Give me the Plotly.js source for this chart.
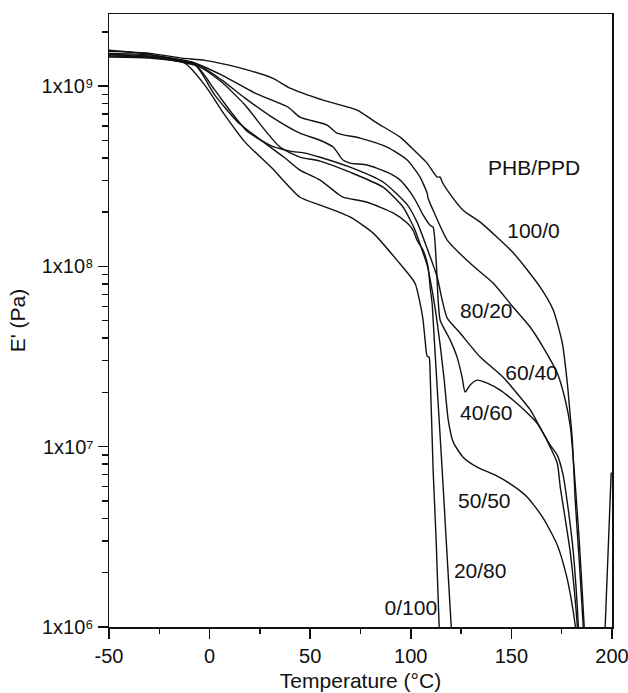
<!DOCTYPE html>
<html><head><meta charset="utf-8">
<script src="https://cdn.plot.ly/plotly-3.0.1.min.js"></script>
<style>html,body{margin:0;padding:0;background:#fff}</style>
</head><body><div id="chart" style="width:628px;height:693px"></div>
<script>
// ---- data: temperature (°C) and storage modulus E' (Pa) per PHB/PPD blend ----
const seriesNames = ['100/0', '80/20', '60/40', '40/60', '50/50', '20/80', '0/100'];

const temp100_0 = [-50, -29.7, -13.8, -2.3, 14.1, 31.0, 40.0, 56.4, 73.3, 83.2, 94.7, 103.1, 108.1, 113.1, 114.6, 115.6, 118.1, 126.0, 134.5, 150.9, 164.3, 170.8, 175.3, 177.8, 179.3, 180.3, 181.7, 183.7, 185.7, 186.3, 196.0, 196.6, 199.6];
const mod100_0 = [1.56e9, 1.52e9, 1.43e9, 1.39e9, 1.27e9, 1.11e9, 9.75e8, 8.36e8, 7.36e8, 6.24e8, 5.21e8, 4.25e8, 3.74e8, 3.13e8, 3.13e8, 2.94e8, 2.65e8, 2.05e8, 1.76e8, 1.19e8, 7.68e7, 5.73e7, 3.76e7, 2.25e7, 1.46e7, 1.09e7, 5.06e6, 2.35e6, 1.0e6, 7e5, 7e5, 1.0e6, 7.2e6];

const temp80_20 = [-50, -29.7, -8.8, 6.1, 22.5, 38.9, 44.9, 58.4, 63.3, 74.8, 88.2, 98.2, 104.6, 108.1, 108.6, 111.1, 118.1, 129.5, 141.0, 150.9, 159.4, 165.8, 172.8, 176.8, 179.3, 181.2, 183.7, 186.2, 187.0];
const mod80_20 = [1.52e9, 1.49e9, 1.36e9, 1.15e9, 9.15e8, 7.66e8, 6.73e8, 6.08e8, 5.49e8, 5.15e8, 4.59e8, 3.89e8, 3.13e8, 2.55e8, 2.39e8, 2.05e8, 1.40e8, 1.04e8, 8.07e7, 5.94e7, 4.6e7, 3.56e7, 2.56e7, 1.81e7, 1.29e7, 7.41e6, 3.03e6, 1.0e6, 6e5];

const temp60_40 = [-50, -29.7, -7.3, 2.6, 11.1, 19.1, 31.0, 40.0, 47.4, 54.9, 69.8, 86.2, 98.2, 103.1, 108.1, 113.1, 115.6, 118.1, 124.5, 134.5, 145.9, 154.4, 159.4, 162.8, 165.8, 169.3, 172.8, 175.7, 178.3, 180.8, 183.3, 184.0];
const mod60_40 = [1.50e9, 1.47e9, 1.32e9, 9.5e8, 7.08e8, 5.56e8, 4.65e8, 4.36e8, 4.25e8, 4.03e8, 3.55e8, 2.94e8, 2.2e8, 1.76e8, 1.26e8, 8.73e7, 6.5e7, 5.17e7, 4.27e7, 3.14e7, 2.43e7, 1.88e7, 1.6e7, 1.37e7, 1.19e7, 1.02e7, 8.98e6, 6.95e6, 4.45e6, 2.57e6, 1.0e6, 6e5];

const temp40_60 = [-50, -29.7, -5.8, 6.1, 17.6, 31.0, 44.9, 54.9, 61.4, 66.3, 69.8, 78.3, 88.2, 94.7, 99.7, 103.1, 106.1, 109.6, 111.1, 112.6, 113.6, 114.6, 119.6, 123.0, 125.5, 127.0, 129.5, 133.0, 138.0, 144.4, 150.9, 157.9, 162.8, 165.8, 169.3, 172.8, 174.3, 179.3, 182.8, 183.5];
const mod40_60 = [1.58e9, 1.50e9, 1.31e9, 1.08e9, 8.58e8, 6.73e8, 5.48e8, 5.01e8, 4.59e8, 3.89e8, 3.74e8, 3.65e8, 3.33e8, 3.01e8, 2.58e8, 2.24e8, 1.93e8, 1.69e8, 1.65e8, 1.08e8, 6.5e7, 5.03e7, 3.9e7, 3.14e7, 2.43e7, 2.01e7, 2.2e7, 2.34e7, 2.25e7, 2.06e7, 1.81e7, 1.54e7, 1.35e7, 1.19e7, 9.95e6, 8.1e6, 5.97e6, 2.57e6, 1.0e6, 7e5];

const temp50_50 = [-50, -29.7, -5.8, 6.1, 17.6, 27.5, 35.0, 44.9, 54.9, 69.8, 86.2, 96.2, 99.7, 102.1, 105.1, 108.1, 110.6, 112.6, 114.6, 116.6, 118.6, 121.1, 126.0, 133.0, 142.0, 150.4, 157.9, 165.8, 172.8, 177.3, 179.8, 181.8, 182.5];
const mod50_50 = [1.49e9, 1.45e9, 1.29e9, 1.05e9, 7.85e8, 5.7e8, 4.59e8, 4.04e8, 3.84e8, 3.33e8, 2.75e8, 2.13e8, 1.81e8, 1.59e8, 1.28e8, 1.02e8, 7.39e7, 5.37e7, 3.66e7, 2.34e7, 1.41e7, 1.06e7, 8.75e6, 7.7e6, 6.95e6, 6.12e6, 5.25e6, 4.02e6, 2.85e6, 1.94e6, 1.41e6, 1.0e6, 8e5];

const temp20_80 = [-50, -29.7, -7.3, 2.6, 14.1, 27.5, 37.5, 44.9, 54.9, 63.3, 66.3, 78.3, 91.2, 98.2, 101.1, 103.1, 106.1, 108.6, 109.6, 110.6, 111.1, 113.1, 115.6, 117.6, 120.1, 120.6];
const mod20_80 = [1.45e9, 1.43e9, 1.31e9, 8.91e8, 6.31e8, 4.83e8, 3.99e8, 3.42e8, 3.01e8, 2.55e8, 2.42e8, 2.27e8, 1.98e8, 1.74e8, 1.59e8, 1.40e8, 1.23e8, 9.91e7, 7.68e7, 6.25e7, 5.04e7, 2.14e7, 7.41e6, 3.03e6, 1.0e6, 8e5];

const temp0_100 = [-50, -29.7, -12.3, -2.3, 7.6, 17.6, 31.0, 44.9, 54.9, 69.8, 81.3, 93.2, 102.1, 104.6, 106.1, 107.1, 108.1, 109.1, 109.6, 111.1, 112.6, 114.1, 114.6];
const mod0_100 = [1.47e9, 1.45e9, 1.34e9, 1.01e9, 6.9e8, 4.89e8, 3.51e8, 2.42e8, 2.19e8, 1.88e8, 1.53e8, 1.08e8, 8.07e7, 6.25e7, 5.04e7, 3.9e7, 3.18e7, 3.14e7, 2.56e7, 7.41e6, 3.03e6, 1.0e6, 8e5];

// axis ticks
const xTickVals = [-50, 0, 50, 100, 150, 200];
const xTickText = ['-50', '0', '50', '100', '150', '200'];
const yTickVals = [1e6, 1e7, 1e8, 1e9];
const yTickText = ['1x10⁶', '1x10⁷', '1x10⁸', '1x10⁹'];
const legendTitle = 'PHB/PPD';

// ---- build ----
const temps = [temp100_0, temp80_20, temp60_40, temp40_60, temp50_50, temp20_80, temp0_100];
const mods = [mod100_0, mod80_20, mod60_40, mod40_60, mod50_50, mod20_80, mod0_100];

const traces = seriesNames.map((n, i) => ({
  type: 'scatter', mode: 'lines', name: n,
  x: temps[i], y: mods[i],
  line: {color: '#111', width: 1.4, shape: 'spline', smoothing: 0.6},
  hoverinfo: 'skip'
}));

const yMinor = [];
for (let d = 6; d <= 9; d++) for (let k = 2; k <= 9; k++) {
  const v = k * Math.pow(10, d);
  if (v < 2.5e9) yMinor.push(v);
}

const FONT = 'Liberation Sans, Arial, Helvetica, sans-serif';
// label anchor positions (temperature, modulus) for the curve labels
const labelText = seriesNames.concat([legendTitle]);
const labelT = [161, 137.5, 160, 137.5, 136.5, 134.5, 100, 161.3];
const labelE = [1.53e8, 5.5e7, 2.5e7, 1.5e7, 4.9e6, 2.0e6, 1.24e6, 3.42e8];

traces.push({
  type: 'scatter', mode: 'text', x: labelT, y: labelE, text: labelText,
  textposition: 'middle center', cliponaxis: false,
  textfont: {family: FONT, size: 21, color: '#111'}, hoverinfo: 'skip'
});

const layout = {
  width: 628, height: 693,
  margin: {l: 109, r: 16, t: 14, b: 66},
  paper_bgcolor: '#fff', plot_bgcolor: '#fff',
  showlegend: false,
  font: {family: FONT, color: '#111', size: 20},
  xaxis: {
    range: [-50, 200], tickmode: 'array', tickvals: xTickVals, ticktext: xTickText,
    ticks: 'outside', ticklen: 10, tickwidth: 1.5, tickcolor: '#111',
    ticklabeloverflow: 'allow',
    showline: true, linewidth: 1.5, linecolor: '#111', mirror: true,
    showgrid: false, zeroline: false,
    minor: {tick0: -50, dtick: 25, ticks: 'outside', ticklen: 5, tickwidth: 1.5, tickcolor: '#111', showgrid: false},
    tickfont: {family: FONT, size: 20, color: '#111'},
    title: {text: 'Temperature (°C)', font: {family: FONT, size: 21, color: '#111'}, standoff: 8}
  },
  yaxis: {
    type: 'log', range: [6, 9.4], tickmode: 'array', tickvals: yTickVals, ticktext: yTickText,
    ticks: 'outside', ticklen: 10, tickwidth: 1.5, tickcolor: '#111',
    ticklabeloverflow: 'allow',
    showline: true, linewidth: 1.5, linecolor: '#111', mirror: true,
    showgrid: false, zeroline: false,
    minor: {tickmode: 'array', tickvals: yMinor, ticks: 'outside', ticklen: 6, tickwidth: 1.5, tickcolor: '#111', showgrid: false},
    tickfont: {family: FONT, size: 20, color: '#111'},
    title: {text: "E' (Pa)", font: {family: FONT, size: 21, color: '#111'}, standoff: 10}
  }
};

Plotly.newPlot('chart', traces, layout, {staticPlot: true, displayModeBar: false});
</script></body></html>
